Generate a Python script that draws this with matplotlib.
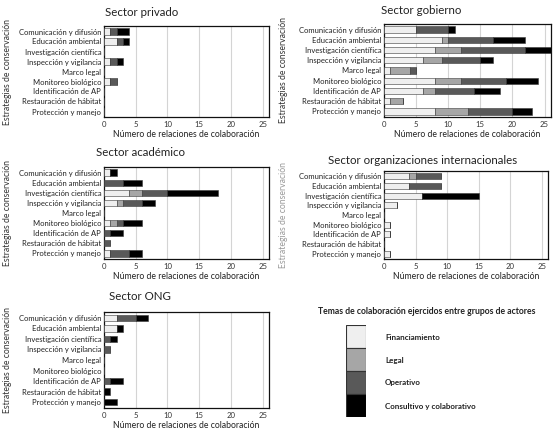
import numpy as np
import matplotlib.pyplot as plt

# Estrategias (de arriba hacia abajo)
estrategias = ['Comunicación y difusión', 'Educación ambiental', 'Investigación científica',
               'Inspección y vigilancia', 'Marco legal', 'Monitoreo biológico',
               'Identificación de AP', 'Restauración de hábitat', 'Protección y manejo']

temas = ['Financiamiento', 'Legal', 'Operativo', 'Consultivo y colaborativo']
colores = ['#efefef', '#a6a6a6', '#595959', '#000000']

# valores por sector: financiamiento, legal, operativo, consultivo
privado_fin = [1, 2, 0, 1, 0, 1, 0, 0, 0]
privado_leg = [0, 0, 0, 0, 0, 0, 0, 0, 0]
privado_ope = [1, 1, 0, 1, 0, 1, 0, 0, 0]
privado_con = [2, 1, 0, 1, 0, 0, 0, 0, 0]

gobierno_fin = [5, 9, 8, 6, 1, 8, 6, 1, 8]
gobierno_leg = [0, 1, 4, 3, 3, 4, 2, 2, 5]
gobierno_ope = [5, 7, 10, 6, 1, 7, 6, 0, 7]
gobierno_con = [1, 5, 4, 2, 0, 5, 4, 0, 3]

academico_fin = [1, 0, 4, 2, 0, 1, 0, 0, 1]
academico_leg = [0, 0, 2, 1, 0, 1, 0, 0, 0]
academico_ope = [0, 3, 4, 3, 0, 1, 1, 1, 3]
academico_con = [1, 3, 8, 2, 0, 3, 2, 0, 2]

internac_fin = [4, 4, 6, 2, 0, 1, 1, 0, 1]
internac_leg = [1, 0, 0, 0, 0, 0, 0, 0, 0]
internac_ope = [4, 5, 0, 0, 0, 0, 0, 0, 0]
internac_con = [0, 0, 9, 0, 0, 0, 0, 0, 0]

ong_fin = [2, 2, 0, 0, 0, 0, 0, 0, 0]
ong_leg = [0, 0, 0, 0, 0, 0, 0, 0, 0]
ong_ope = [3, 0, 1, 1, 0, 0, 1, 0, 0]
ong_con = [2, 1, 1, 0, 0, 0, 2, 1, 2]

plt.rcParams['font.family'] = ['Lato', 'DejaVu Sans']

fig = plt.figure(figsize=(5.56, 4.34), dpi=100)
W, H = 556, 434


def panel(rect, title, series, title_xy):
    # rect in pixels: left, top, right, bottom
    l, t, r, b = rect
    ax = fig.add_axes([l / W, 1 - b / H, (r - l) / W, (b - t) / H])
    y = np.arange(len(estrategias))
    left = np.zeros(len(estrategias))
    for vals, c in zip(series, colores):
        vals = np.array(vals)
        ax.barh(y, vals, left=left, height=0.62, color=c, edgecolor='#3a3a3a', linewidth=0.4, zorder=3)
        left += vals
    ax.set_xlim(0, 26)
    ax.set_ylim(len(estrategias) - 0.45, -0.55)
    ax.set_yticks(y)
    ax.set_yticklabels(estrategias, fontsize=5.5, color='#222222')
    ax.set_xticks([0, 5, 10, 15, 20, 25])
    ax.tick_params(axis='x', labelsize=5.6, colors='#333333', length=0, pad=3)
    ax.tick_params(axis='y', length=0, pad=2)
    ax.grid(axis='x', color='#d4d4d4', linewidth=0.8, zorder=0)
    for s in ax.spines.values():
        s.set_linewidth(0.9)
        s.set_color('#111111')
    ax.set_xlabel('Número de relaciones de colaboración', fontsize=6.2, labelpad=1.5, color='#222222')
    fig.text(title_xy[0] / W, 1 - title_xy[1] / H, title, ha='center', va='center',
             fontsize=8.3, color='#222222')
    return ax


panel((104, 26, 269, 117), 'Sector privado',
      [privado_fin, privado_leg, privado_ope, privado_con], (142, 12))
panel((384, 24, 551, 117), 'Sector gobierno',
      [gobierno_fin, gobierno_leg, gobierno_ope, gobierno_con], (421, 10))
panel((104, 167, 269, 259), 'Sector académico',
      [academico_fin, academico_leg, academico_ope, academico_con], (141, 153))
panel((384, 171, 548, 259), 'Sector organizaciones internacionales',
      [internac_fin, internac_leg, internac_ope, internac_con], (423, 161))
panel((104, 312, 269, 408), 'Sector ONG',
      [ong_fin, ong_leg, ong_ope, ong_con], (140, 297))

# etiquetas del eje y
for x, yc, col in [(8, 72, '#333333'), (283, 70, '#333333'), (8, 213, '#333333'),
                   (283, 215, '#999999'), (8, 360, '#333333')]:
    fig.text(x / W, 1 - yc / H, 'Estrategias de conservación', rotation=90,
             ha='center', va='center', fontsize=6.2, color=col)

# leyenda
fig.text(427 / W, 1 - 311 / H, 'Temas de colaboración ejercidos entre grupos de actores',
         ha='center', va='center', fontsize=6.2, fontweight='bold', color='#222222')
lax = fig.add_axes([346 / W, 1 - 417 / H, 20 / W, 92 / H])
for i, (c, t) in enumerate(zip(colores, temas)):
    lax.bar(0, 1, bottom=3 - i, width=1, color=c, edgecolor='#333333', linewidth=0.8)
    fig.text(385 / W, 1 - (337 + i * 23) / H, t, ha='left', va='center',
             fontsize=5.8, fontweight='bold', color='#222222')
lax.set_xlim(-0.5, 0.5)
lax.set_ylim(0, 4)
lax.axis('off')

fig.savefig('out.png', dpi=100)
